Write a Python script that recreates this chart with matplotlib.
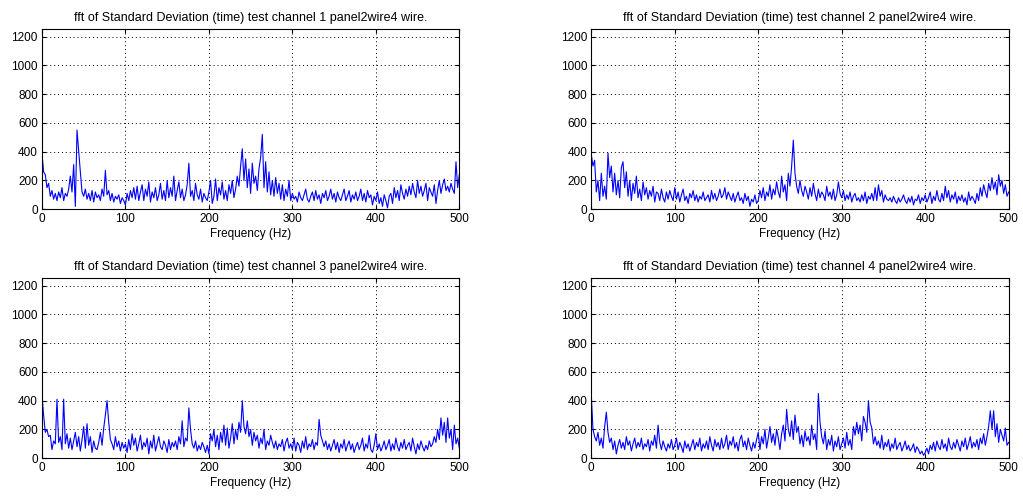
import matplotlib.pyplot as plt
import numpy as np

plt.rcParams['font.family'] = ['Liberation Sans', 'DejaVu Sans']

# frequency axis, 2 Hz steps from 0 to 500 Hz
freq = np.arange(0, 502, 2)

# fft magnitude of the standard deviation, one list per channel
ch1 = [390, 260, 240, 150, 180, 90, 130, 70, 110, 60,
       120, 80, 150, 60, 110, 90, 140, 230, 120, 310,
       20, 550, 400, 260, 120, 90, 140, 70, 110, 60,
       130, 50, 120, 80, 100, 60, 140, 90, 270, 100,
       130, 60, 110, 50, 90, 70, 100, 40, 80, 60,
       30, 110, 60, 130, 80, 150, 70, 160, 60, 120,
       170, 60, 140, 90, 190, 50, 120, 80, 150, 60,
       100, 180, 70, 130, 60, 200, 80, 150, 90, 230,
       60, 130, 190, 80, 140, 60, 100, 170, 320, 90,
       130, 60, 180, 100, 70, 140, 50, 110, 80, 60,
       120, 200, 40, 90, 210, 60, 150, 100, 190, 70,
       130, 60, 170, 110, 200, 80, 140, 230, 160, 300,
       420, 200, 350, 150, 280, 110, 320, 180, 230, 130,
       280, 360, 520, 150, 330, 120, 260, 100, 200, 90,
       220, 110, 180, 70, 170, 60, 140, 90, 200, 60,
       110, 70, 90, 50, 120, 80, 60, 100, 140, 70,
       50, 90, 120, 60, 130, 70, 100, 40, 110, 80,
       130, 60, 90, 140, 70, 110, 50, 120, 80, 60,
       100, 140, 60, 90, 130, 50, 100, 70, 120, 60,
       90, 140, 60, 110, 50, 130, 80, 100, 30, 90,
       60, 120, 40, 80, 20, 100, 60, 10, 90, 110,
       40, 150, 80, 130, 60, 170, 110, 70, 140, 90,
       160, 100, 180, 120, 80, 200, 110, 160, 90, 130,
       180, 60, 150, 120, 90, 170, 40, 130, 200, 110,
       170, 210, 130, 160, 120, 180, 140, 110, 330, 150,
       240]

ch2 = [380, 300, 340, 120, 200, 60, 250, 90, 160, 70,
       390, 220, 300, 120, 250, 100, 200, 80, 290, 330,
       150, 260, 90, 200, 60, 180, 110, 230, 80, 140,
       60, 190, 100, 150, 70, 130, 90, 160, 50, 120,
       110, 60, 140, 80, 50, 120, 70, 130, 90, 60,
       150, 70, 120, 50, 100, 140, 60, 90, 40, 110,
       80, 130, 60, 100, 50, 90, 70, 120, 60, 80,
       100, 50, 130, 70, 110, 60, 90, 140, 80, 100,
       150, 70, 120, 90, 60, 110, 50, 90, 120, 60,
       80, 40, 110, 60, 90, 20, 70, 50, 100, 40,
       60, 130, 80, 150, 60, 120, 90, 170, 70, 140,
       100, 190, 120, 80, 230, 120, 170, 60, 250, 160,
       300, 480, 250, 160, 110, 200, 130, 90, 160, 120,
       70, 150, 90, 180, 110, 60, 140, 80, 120, 100,
       60, 160, 90, 120, 70, 140, 60, 100, 190, 110,
       80, 130, 60, 100, 70, 120, 50, 90, 110, 60,
       80, 50, 100, 60, 120, 40, 90, 70, 110, 60,
       150, 60, 170, 90, 130, 50, 100, 70, 60, 80,
       50, 90, 60, 40, 80, 50, 70, 100, 60, 40,
       80, 50, 90, 30, 70, 60, 100, 40, 80, 60,
       100, 50, 80, 120, 40, 90, 60, 130, 70, 50,
       110, 60, 160, 80, 130, 50, 100, 70, 120, 40,
       90, 60, 100, 50, 80, 30, 120, 60, 90, 70,
       40, 110, 60, 150, 90, 170, 120, 80, 180, 130,
       220, 140, 190, 100, 240, 160, 200, 110, 170, 90,
       120]

ch3 = [440, 300, 180, 200, 150, 160, 60, 120, 100, 410,
       110, 150, 60, 410, 100, 170, 70, 140, 60, 120,
       180, 80, 150, 50, 130, 220, 70, 240, 90, 150,
       40, 120, 70, 60, 110, 180, 90, 210, 300, 400,
       250, 130, 100, 60, 150, 80, 120, 50, 110, 70,
       100, 40, 130, 60, 170, 90, 140, 50, 100, 160,
       60, 110, 80, 140, 30, 120, 70, 160, 50, 100,
       150, 80, 60, 120, 90, 40, 130, 60, 110, 80,
       120, 60, 150, 100, 260, 80, 140, 120, 350, 200,
       100, 70, 120, 50, 90, 60, 110, 80, 40, 90,
       30, 170, 120, 200, 80, 160, 60, 180, 110, 230,
       90, 210, 70, 140, 240, 100, 200, 130, 250, 180,
       400, 220, 170, 260, 150, 200, 90, 180, 120, 160,
       70, 140, 100, 200, 60, 120, 90, 160, 110, 70,
       120, 60, 100, 80, 130, 50, 110, 140, 70, 100,
       60, 140, 50, 110, 90, 40, 120, 70, 150, 60,
       100, 80, 130, 60, 110, 90, 270, 160, 120, 80,
       120, 60, 100, 50, 90, 130, 60, 110, 40, 100,
       70, 130, 50, 90, 120, 60, 100, 40, 80, 110,
       60, 90, 140, 50, 100, 70, 160, 60, 40, 90,
       170, 60, 100, 50, 80, 120, 60, 90, 130, 50,
       100, 60, 140, 80, 50, 110, 70, 130, 60, 90,
       110, 50, 140, 80, 30, 100, 60, 120, 80, 50,
       90, 60, 120, 80, 100, 150, 110, 200, 130, 280,
       160, 250, 110, 280, 140, 200, 60, 230, 100, 140,
       70]

ch4 = [440, 200, 150, 120, 180, 90, 140, 70, 220, 320,
       180, 110, 140, 60, 120, 30, 90, 130, 70, 110,
       60, 150, 90, 120, 50, 100, 140, 70, 110, 80,
       140, 60, 100, 80, 130, 50, 120, 90, 160, 70,
       230, 110, 60, 120, 80, 50, 100, 70, 130, 60,
       90, 140, 60, 110, 80, 40, 120, 70, 100, 50,
       90, 130, 60, 110, 80, 140, 50, 100, 70, 120,
       60, 150, 90, 50, 130, 80, 110, 60, 140, 70,
       100, 160, 60, 120, 90, 150, 70, 110, 50, 130,
       160, 80, 120, 60, 140, 90, 50, 110, 70, 130,
       180, 60, 150, 100, 200, 70, 140, 220, 110, 170,
       90, 200, 140, 60, 170, 230, 120, 340, 200, 150,
       260, 130, 300, 180, 220, 100, 160, 80, 190, 120,
       150, 90, 230, 130, 170, 60, 450, 250, 150, 100,
       190, 60, 130, 90, 160, 50, 120, 80, 150, 60,
       100, 140, 70, 180, 90, 130, 60, 220, 160, 250,
       170, 230, 120, 290, 250, 180, 400, 250, 210, 100,
       150, 90, 120, 70, 160, 60, 110, 80, 130, 50,
       100, 70, 140, 60, 90, 110, 50, 80, 120, 60,
       90, 50, 70, 100, 40, 80, 60, 30, 50, 20,
       40, 70, 30, 90, 60, 110, 50, 120, 80, 60,
       130, 70, 100, 50, 140, 80, 60, 110, 70, 130,
       90, 50, 120, 80, 140, 60, 100, 150, 70, 110,
       80, 130, 60, 140, 100, 170, 90, 150, 220, 330,
       200, 330, 150, 240, 110, 200, 160, 120, 210, 90,
       110]

channels = [ch1, ch2, ch3, ch4]
titles = ["fft of Standard Deviation (time) test channel %d panel2wire4 wire." % (i + 1) for i in range(4)]

fig = plt.figure(figsize=(10.23, 4.97), dpi=100)

# axes boxes laid out as a 2x2 grid (left, bottom, width, height)
boxes = [[0.041, 0.579, 0.408, 0.362],
         [0.578, 0.579, 0.408, 0.362],
         [0.041, 0.078, 0.408, 0.362],
         [0.578, 0.078, 0.408, 0.362]]

for i in range(4):
    ax = fig.add_axes(boxes[i])
    ax.plot(freq, channels[i], color=(0, 0, 1), linewidth=0.8)
    ax.set_xlim(0, 500)
    ax.set_ylim(0, 1250)
    ax.set_xticks(np.arange(0, 600, 100))
    ax.set_yticks(np.arange(0, 1400, 200))
    ax.grid(True, color='black', linestyle=(0, (1, 3)), linewidth=0.7)
    ax.tick_params(direction='in', top=True, right=True, labelsize=8.5, length=3, pad=3)
    for s in ax.spines.values():
        s.set_linewidth(0.8)
    ax.set_xlabel("Frequency (Hz)", fontsize=8.5, labelpad=2)
    ax.set_title(titles[i], fontsize=9, pad=6)

plt.savefig("out.png", dpi=100)
